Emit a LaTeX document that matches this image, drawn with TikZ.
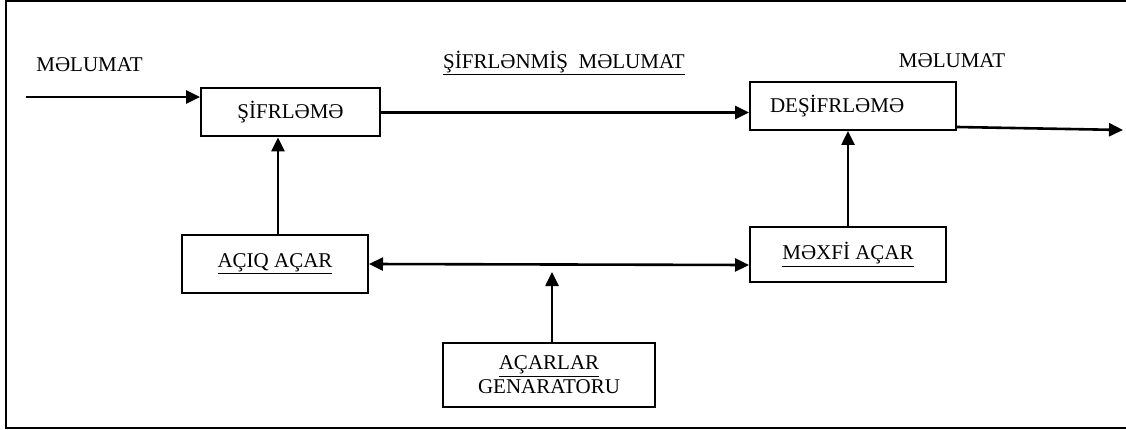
\documentclass[tikz,border=0pt]{standalone}
\usepackage{fontspec}
\setmainfont{Liberation Serif}
\usetikzlibrary{arrows.meta,calc}

\begin{document}
\begin{tikzpicture}[x=1pt,y=-1pt,
    every node/.style={font=\fontsize{21}{24}\selectfont},
    blk/.style={draw,line width=2pt,inner sep=0pt},
    lbl/.style={inner sep=0pt},
    tip/.style={Triangle[length=14pt,width=13pt]},
    conn/.style={line width=2.6pt,-{Triangle[length=14pt,width=13pt]}},
    both/.style={line width=2.6pt,{Triangle[length=14pt,width=13pt]}-{Triangle[length=14pt,width=13pt]}}]
  \useasboundingbox (0,0) rectangle (1126,430);
  % outer frame (its right side runs past the page edge)
  \draw[line width=2pt] (1160,1.5) -- (6,1.5) -- (6,428) -- (1160,428);

  % blocks
  \node[blk,minimum width=179pt,minimum height=48pt] (sif) at (290.5,112.5) {ŞİFRLƏMƏ};
  \node[blk,minimum width=206pt,minimum height=48pt,text width=166pt,align=left,inner xsep=20pt] (desif) at (853,106) {DEŞİFRLƏMƏ};
  \node[blk,minimum width=186pt,minimum height=58pt] (aciq) at (275,264) {\underline{AÇIQ AÇAR}};
  \node[blk,minimum width=196pt,minimum height=55pt] (mexfi) at (848,254.5) {\underline{MƏXFİ AÇAR}};
  \node[blk,minimum width=212pt,minimum height=64pt,align=center] (gen) at (549,375) {\underline{AÇARLAR}\\GENARATORU};

  % labels
  \node[lbl] (l1) at (89.5,65) {MƏLUMAT};
  \node[lbl] (l2) at (564,63) {\underline{ŞİFRLƏNMİŞ\ \ MƏLUMAT}};
  \node[lbl] (l3) at (952,61) {MƏLUMAT};

  % connectors
  \coordinate (in) at (26,97);
  \coordinate (out) at (1123,130);
  \coordinate (mid) at (552,272);
  \draw[conn] (in) -- (in -| sif.west);
  \draw[conn] (sif.east) -- (sif.east -| desif.west);
  \draw[conn] ($(desif.south east)+(0,-4)$) -- (out);
  \draw[conn] ($(aciq.north)+(3,0)$) -- ($(aciq.north |- sif.south)+(3,0)$);
  \draw[conn] (mexfi.north) -- (mexfi.north |- desif.south);
  \draw[both] (aciq.east) -- ($(mexfi.west)+(0,10.5)$);
  \draw[conn] (gen.north -| mid) -- (mid);
\end{tikzpicture}
\end{document}
